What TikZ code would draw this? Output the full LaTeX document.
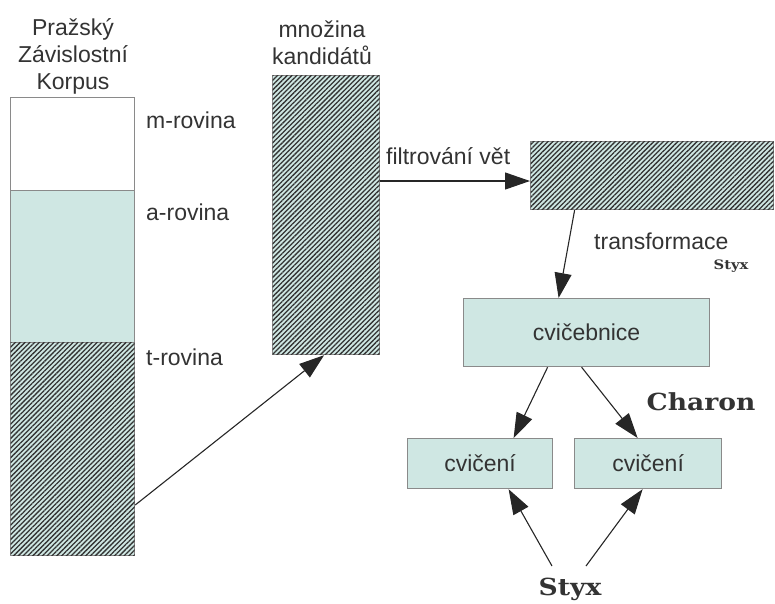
\documentclass[tikz,border=0pt]{standalone}
\usepackage{fontspec}
\setmainfont{Liberation Sans}
\newfontfamily\slabfont{DejaVu Serif}
\usetikzlibrary{patterns.meta,arrows.meta,calc}
\definecolor{boxfill}{HTML}{CFE7E3}
\definecolor{boxline}{HTML}{8A8A8A}
\definecolor{txt}{HTML}{333333}
\newcommand{\wideslab}[1]{\scalebox{1.13}[1]{#1}}
\begin{document}
\begin{tikzpicture}[x=1pt,y=-1pt,
  lbl/.style={font=\fontsize{23}{27}\selectfont, text=txt, inner sep=0pt},
  slab/.style={font=\slabfont\bfseries\fontsize{23.5}{26}\selectfont, text=txt, inner sep=0pt},
  slabsmall/.style={font=\slabfont\bfseries\fontsize{13}{15}\selectfont, text=txt, inner sep=0pt},
  plainbox/.style={draw=boxline, line width=1.2pt, inner sep=0pt, anchor=north west},
  tealbox/.style={plainbox, fill=boxfill},
  hatchbox/.style={tealbox, postaction={pattern={Lines[angle=45,distance=3.4pt,line width=1.3pt]}, pattern color=black!80}},
  arr/.style={draw=black!85, line width=1.1pt, -{Triangle[length=25pt,width=17pt]}}
]
\useasboundingbox (0,0) rectangle (775,603);
% left column
\node[plainbox, minimum width=124pt, minimum height=93pt] (m) at (10,97) {};
\node[tealbox, minimum width=124pt, minimum height=152pt] (a) at (10,190) {};
\node[hatchbox, minimum width=124pt, minimum height=213pt] (t) at (10,342) {};
\node[lbl, align=center] (title) at (73,56) {Pražský\\Závislostní\\Korpus};
\node[lbl, anchor=west] (ml) at (146,120) {m-rovina};
\node[lbl, anchor=west] (al) at (146,212) {a-rovina};
\node[lbl, anchor=west] (tl) at (146,357) {t-rovina};
% candidates
\node[hatchbox, minimum width=107pt, minimum height=279pt] (kand) at (272,75) {};
\node[lbl, align=center] (kandl) at (322,43) {množina\\kandidátů};
% filtered
\node[hatchbox, minimum width=243pt, minimum height=68pt] (filt) at (530,141) {};
\node[lbl, anchor=west] (filtl) at (386,156) {filtrování vět};
\node[lbl, anchor=west] (trl) at (594,241) {transformace};
\node[slabsmall] (styx1) at (731,266) {\wideslab{Styx}};
% boxes
\node[tealbox, minimum width=246pt, minimum height=68pt] (cvic) at (463,298) {};
\node[lbl] (cvicl) at (cvic.center) {cvičebnice};
\node[tealbox, minimum width=145pt, minimum height=50pt] (c1) at (407,438) {};
\node[lbl] (c1l) at (c1.center) {cvičení};
\node[tealbox, minimum width=147pt, minimum height=50pt] (c2) at (574,438) {};
\node[lbl] (c2l) at (c2.center) {cvičení};
\node[slab] (charon) at (701,402) {\wideslab{Charon}};
\node[slab] (styx2) at (570,589) {\wideslab{Styx}};
\coordinate (s1) at (552,566);
\coordinate (s2) at (586,566);
% arrows
\draw[arr] ($(t.north east)+(0,163)$) -- ($(kand.south)+(-2,0)$);
\draw[arr] ($(kand.north east)+(0,106)$) -- ($(filt.north west)+(0,40)$);
\draw[arr] ($(filt.south)+(-77.5,0)$) -- ($(cvic.north)+(-28,0)$);
\draw[arr] ($(cvic.south)+(-39,0)$) -- ($(c1.north)+(33.5,0)$);
\draw[arr] ($(cvic.south)+(-5,0)$) -- ($(c2.north)+(-10.5,0)$);
\draw[arr] (s1) -- ($(c1.south)+(28.5,0)$);
\draw[arr] (s2) -- ($(c2.south)+(-5.5,0)$);
\end{tikzpicture}
\end{document}
